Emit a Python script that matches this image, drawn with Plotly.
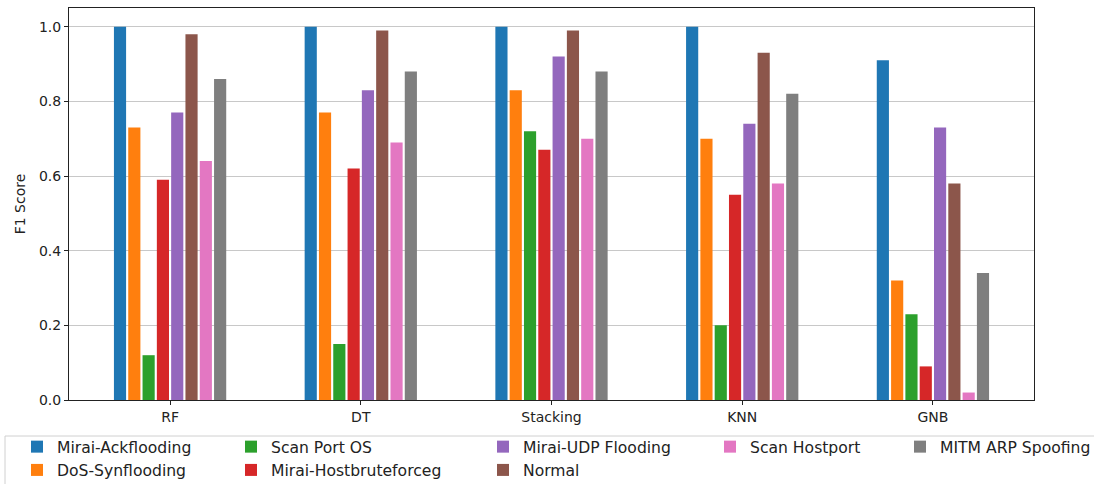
import plotly.graph_objects as go

models = ["RF", "DT", "Stacking", "KNN", "GNB"]
classes = ["Mirai-Ackflooding", "DoS-Synflooding", "Scan Port OS", "Mirai-Hostbruteforceg",
           "Mirai-UDP Flooding", "Normal", "Scan Hostport", "MITM ARP Spoofing"]
ack = [1.00, 1.00, 1.00, 1.00, 0.91]
dos = [0.73, 0.77, 0.83, 0.70, 0.32]
scan_port = [0.12, 0.15, 0.72, 0.20, 0.23]
hostbrute = [0.59, 0.62, 0.67, 0.55, 0.09]
udp = [0.77, 0.83, 0.92, 0.74, 0.73]
normal = [0.98, 0.99, 0.99, 0.93, 0.58]
scan_host = [0.64, 0.69, 0.70, 0.58, 0.02]
mitm = [0.86, 0.88, 0.88, 0.82, 0.34]
series = [ack, dos, scan_port, hostbrute, udp, normal, scan_host, mitm]
colors = ["#1f77b4", "#ff7f0e", "#2ca02c", "#d62728", "#9467bd", "#8c564b", "#e377c2", "#7f7f7f"]
# legend column assignment (matplotlib ncol=5, column-major)
legend_ids = ["legend", "legend", "legend2", "legend2", "legend3", "legend3", "legend4", "legend5"]

W, H = 1094, 484
L, R, T, B = 69, 60, 8, 84
pw, ph = W - L - R, H - T - B

def px2x(px):
    return (px - L) / pw

def py2y(py):
    return (H - B - py) / ph

fig = go.Figure()
for name, vals, c, lg in zip(classes, series, colors, legend_ids):
    fig.add_trace(go.Bar(x=models, y=vals, name=name, marker=dict(color=c, line=dict(width=0)),
                         legend=lg))

font = dict(family="DejaVu Sans", size=14, color="#222")
leg_font = dict(family="DejaVu Sans", size=15.6, color="#222")
text_starts = [57, 271, 523, 750, 940]
legends = {}
for i, key in enumerate(["legend", "legend2", "legend3", "legend4", "legend5"]):
    legends[key] = dict(x=px2x(text_starts[i] - 40), xanchor="left", y=py2y(430), yanchor="top",
                        orientation="v", font=leg_font, bgcolor="rgba(0,0,0,0)",
                        borderwidth=0, tracegroupgap=0, itemwidth=30)

fig.update_layout(
    width=W, height=H,
    margin=dict(l=L, r=R, t=T, b=B, autoexpand=False),
    paper_bgcolor="white", plot_bgcolor="white",
    barmode="group", bargap=0.4, bargroupgap=0.15,
    font=font,
    showlegend=True,
    **legends,
    xaxis=dict(range=[-0.53, 4.53], showgrid=False, showline=True, linecolor="#222", linewidth=1,
               mirror=True, ticks="outside", ticklen=4, tickcolor="#222", tickfont=font,
               automargin=False),
    yaxis=dict(range=[0, 1.05], tickvals=[0, 0.2, 0.4, 0.6, 0.8, 1.0], tickformat=".1f",
               showgrid=True, gridcolor="#c8c8c8", gridwidth=1, zeroline=False,
               showline=True, linecolor="#222", linewidth=1, mirror=True,
               ticks="outside", ticklen=4, tickcolor="#222", tickfont=font,
               title=dict(text="F1 Score", font=font, standoff=10), automargin=False),
    shapes=[dict(type="rect", xref="paper", yref="paper",
                 x0=px2x(5), x1=px2x(1110), y0=py2y(500), y1=py2y(436),
                 line=dict(color="#d0d0d0", width=1), fillcolor="rgba(0,0,0,0)", layer="above")],
)

fig.write_html("out.html", config={"displayModeBar": False},
               post_script="document.body.style.margin='0';document.body.style.overflow='hidden';")
